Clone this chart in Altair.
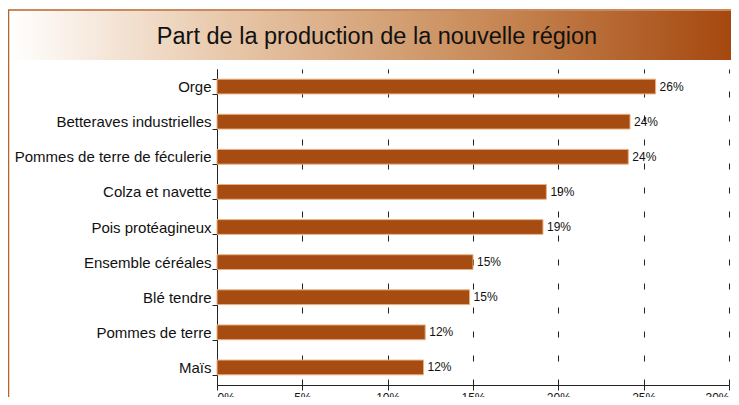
import altair as alt
import pandas as pd

categories = ["Orge", "Betteraves industrielles", "Pommes de terre de féculerie",
              "Colza et navette", "Pois protéagineux", "Ensemble céréales",
              "Blé tendre", "Pommes de terre", "Maïs"]
values = [25.7, 24.2, 24.1, 19.3, 19.1, 15.0, 14.8, 12.2, 12.1]
labels = ["26%", "24%", "24%", "19%", "19%", "15%", "15%", "12%", "12%"]
x_ticks = [0, 5, 10, 15, 20, 25, 30]
title_text = "Part de la production de la nouvelle région"

df = pd.DataFrame({"cat": categories, "val": values, "lab": labels})
one = pd.DataFrame({"t": [title_text]})

W, H = 512, 316
PL, PT = 209, 61
FONT = "Liberation Sans"

xscale = alt.Scale(domain=[0, 30], nice=False, zero=True)
yscale = alt.Scale(domain=categories, paddingInner=0.58, paddingOuter=0.29)

base = alt.Chart(df)
deco = alt.Chart(one)

banner = deco.mark_rect(
    color=alt.Gradient(
        gradient="linear",
        stops=[alt.GradientStop(color="#ffffff", offset=0),
               alt.GradientStop(color="#e8c8aa", offset=0.3),
               alt.GradientStop(color="#c98c5a", offset=0.65),
               alt.GradientStop(color="#a5480f", offset=1)],
        x1=0, x2=1, y1=0, y2=0),
).encode(x=alt.value(-PL + 1), x2=alt.value(W + 2), y=alt.value(-58), y2=alt.value(-9))

frame_top = deco.mark_rule(color="#b8622a", strokeWidth=1.5).encode(
    x=alt.value(-PL), x2=alt.value(W + 2), y=alt.value(-59))
frame_left = deco.mark_rule(color="#b8622a", strokeWidth=1.5).encode(
    x=alt.value(-PL + 0.5), y=alt.value(-59), y2=alt.value(H + 20))

title = deco.mark_text(font=FONT, fontSize=23.5, fontWeight="normal", color="#111111",
                       align="center", baseline="middle").encode(
    x=alt.value(160), y=alt.value(-32), text="t:N")

bars = base.mark_bar(color="#a64b11", stroke="#e8b080", strokeWidth=1).encode(
    x=alt.X("val:Q", scale=xscale,
            axis=alt.Axis(values=x_ticks, labelExpr="datum.value + '%'", title=None,
                          grid=True, gridDash=[6, 18], gridColor="#222222", gridWidth=1,
                          domainColor="#222222", tickColor="#222222", tickSize=5,
                          labelFont=FONT, labelFontSize=12, labelColor="#111111",
                          labelPadding=2)),
    y=alt.Y("cat:N", scale=yscale, sort=categories,
            axis=alt.Axis(title=None, tickBand="extent", tickSize=5,
                          domainColor="#222222", tickColor="#222222",
                          labelFont=FONT, labelFontSize=15, labelColor="#111111",
                          labelPadding=1, labelLimit=300)),
)

text = base.mark_text(font=FONT, fontSize=12, color="#111111", align="left",
                      baseline="middle", dx=4).encode(
    x=alt.X("val:Q", scale=xscale), y=alt.Y("cat:N", scale=yscale, sort=categories),
    text="lab:N")

chart = alt.layer(banner, frame_top, frame_left, title, bars, text).properties(
    width=W, height=H,
    autosize=alt.AutoSizeParams(type="none"),
    padding={"left": PL, "top": PT, "right": 2, "bottom": 12},
    background="white",
).configure_view(stroke=None)

chart.save("out.html", embed_options={"renderer": "svg", "actions": False})
